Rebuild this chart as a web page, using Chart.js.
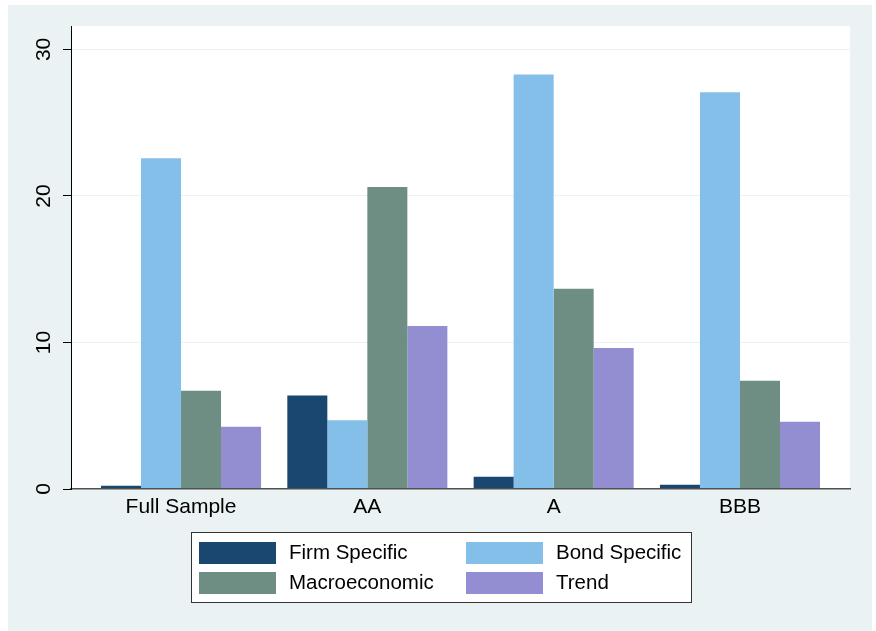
<!DOCTYPE html>
<html><head><meta charset="utf-8">
<script src="https://cdn.jsdelivr.net/npm/chart.js@4/dist/chart.umd.min.js"></script>
<style>html,body{margin:0;padding:0;background:#fff;} #wrap{width:876px;height:631px;position:relative}</style>
</head><body><div id="wrap"><canvas id="c" width="876" height="631"></canvas></div>
<script>
const categories = ['Full Sample', 'AA', 'A', 'BBB'];
const seriesNames = ['Firm Specific', 'Bond Specific', 'Macroeconomic', 'Trend'];
const firmSpecific = [0.22, 6.38, 0.84, 0.29];
const bondSpecific = [22.57, 4.70, 28.29, 27.07];
const macroeconomic = [6.70, 20.61, 13.66, 7.39];
const trend = [4.25, 11.13, 9.63, 4.59];
const yTicks = [0, 10, 20, 30];

const seriesValues = [firmSpecific, bondSpecific, macroeconomic, trend];
const seriesColors = ['#1a476f', '#84bfe9', '#6e8e84', '#938dd2'];
const FONT = '"Liberation Sans", Arial, Helvetica, sans-serif';

const bgPlugin = {
  id: 'stataBg',
  beforeDraw(chart) {
    const ctx = chart.ctx, a = chart.chartArea;
    ctx.save();
    ctx.fillStyle = '#ffffff';
    ctx.fillRect(0, 0, chart.width, chart.height);
    ctx.fillStyle = '#eaf2f3';
    ctx.fillRect(8, 5, 864, 626);
    ctx.fillStyle = '#ffffff';
    ctx.fillRect(a.left, a.top, a.right - a.left, a.bottom - a.top);
    ctx.restore();
  }
};

const legendPlugin = {
  id: 'stataLegend',
  afterDraw(chart) {
    const ctx = chart.ctx;
    ctx.save();
    ctx.fillStyle = '#ffffff';
    ctx.fillRect(192, 533, 500, 70);
    ctx.strokeStyle = '#333333';
    ctx.lineWidth = 1;
    ctx.strokeRect(191.5, 532.5, 500, 70);
    const cols = [199, 466], rows = [542, 572];
    ctx.font = '20.5px ' + FONT;
    ctx.textBaseline = 'middle';
    ctx.textAlign = 'left';
    chart.data.datasets.forEach((ds, i) => {
      const c = i % 2, r = Math.floor(i / 2);
      ctx.fillStyle = ds.backgroundColor;
      ctx.fillRect(cols[c], rows[r], 77, 22);
      ctx.fillStyle = '#000000';
      ctx.fillText(ds.label, cols[c] + 90, rows[r] + 11.5);
    });
    ctx.restore();
  }
};

new Chart(document.getElementById('c'), {
  type: 'bar',
  data: {
    datasets: seriesNames.map((name, k) => ({
      label: name,
      data: seriesValues[k].map((v, i) => ({ x: i, y: v })),
      backgroundColor: seriesColors[k],
      borderWidth: 0,
      categoryPercentage: 0.859,
      barPercentage: 1.0
    }))
  },
  options: {
    responsive: false,
    animation: false,
    devicePixelRatio: 1,
    layout: { padding: { left: 8, top: 26, right: 26, bottom: 0 } },
    plugins: { legend: { display: false }, tooltip: { enabled: false } },
    scales: {
      x: {
        type: 'linear',
        offset: false,
        min: -0.5905,
        max: 3.5905,
        afterBuildTicks: s => { s.ticks = categories.map((c, i) => ({ value: i })); },
        afterFit: s => { s.height = 142; },
        grid: { display: false, drawTicks: false, offset: false },
        border: { display: true, color: '#505050', width: 1.5, z: 1 },
        ticks: {
          callback: v => categories[v],
          color: '#000000',
          font: { family: FONT, size: 21 },
          padding: 6,
          maxRotation: 0,
          autoSkip: false
        }
      },
      y: {
        min: 0,
        max: 31.6,
        afterBuildTicks: s => { s.ticks = yTicks.map(v => ({ value: v })); },
        afterFit: s => { s.width = 63; },
        grid: { color: '#eaf2f3', lineWidth: 1, drawTicks: true, tickLength: 8, tickColor: '#000000' },
        border: { display: true, color: '#000000', width: 1, z: 1 },
        ticks: {
          minRotation: 90,
          maxRotation: 90,
          crossAlign: 'center',
          padding: 7,
          color: '#000000',
          font: { family: FONT, size: 21 },
          autoSkip: false
        }
      }
    }
  },
  plugins: [bgPlugin, legendPlugin]
});
</script>
</body></html>
